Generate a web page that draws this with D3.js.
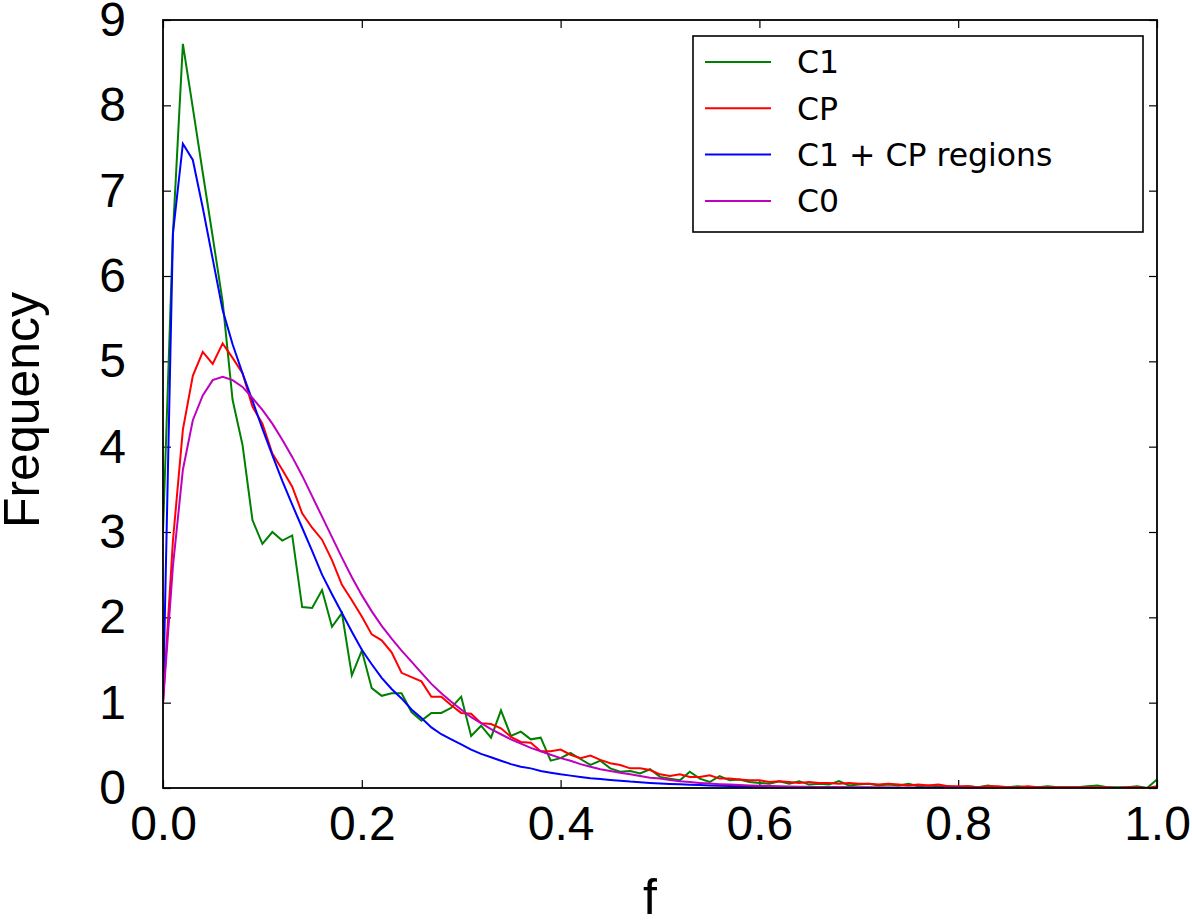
<!DOCTYPE html>
<html>
<head>
<meta charset="utf-8">
<script src="https://cdn.jsdelivr.net/npm/d3@7"></script>
<style>
  body { margin: 0; background: #fff; }
  svg { display: block; }
</style>
</head>
<body>
<svg id="chart" width="1192" height="922"></svg>
<script>
// bin positions (f)
var fBins = [0.00,0.01,0.02,0.03,0.04,0.05,0.06,0.07,0.08,0.09,
  0.10,0.11,0.12,0.13,0.14,0.15,0.16,0.17,0.18,0.19,
  0.20,0.21,0.22,0.23,0.24,0.25,0.26,0.27,0.28,0.29,
  0.30,0.31,0.32,0.33,0.34,0.35,0.36,0.37,0.38,0.39,
  0.40,0.41,0.42,0.43,0.44,0.45,0.46,0.47,0.48,0.49,
  0.50,0.51,0.52,0.53,0.54,0.55,0.56,0.57,0.58,0.59,
  0.60,0.61,0.62,0.63,0.64,0.65,0.66,0.67,0.68,0.69,
  0.70,0.71,0.72,0.73,0.74,0.75,0.76,0.77,0.78,0.79,
  0.80,0.81,0.82,0.83,0.84,0.85,0.86,0.87,0.88,0.89,
  0.90,0.91,0.92,0.93,0.94,0.95,0.96,0.97,0.98,0.99,1.00];

var c1 = [3.0,6.5,8.72,7.97,7.21,6.46,5.7,4.55,4.02,3.14,
  2.86,3.0,2.9,2.96,2.12,2.11,2.32,1.89,2.05,1.32,
  1.61,1.17,1.08,1.11,1.11,0.89,0.79,0.88,0.88,0.94,
  1.07,0.61,0.73,0.59,0.91,0.61,0.66,0.57,0.59,0.32,
  0.35,0.41,0.34,0.27,0.32,0.23,0.19,0.20,0.17,0.22,
  0.13,0.11,0.09,0.19,0.11,0.07,0.14,0.09,0.10,0.07,
  0.06,0.05,0.08,0.05,0.08,0.04,0.05,0.04,0.08,0.03,
  0.04,0.05,0.03,0.04,0.03,0.05,0.02,0.03,0.02,0.02,
  0.01,0.02,0.01,0.03,0.01,0.01,0.02,0.01,0.01,0.02,
  0.01,0.01,0.01,0.02,0.03,0.01,0.01,0.01,0.02,0.0,0.1];

var cp = [1.0,2.9,4.2,4.83,5.11,4.97,5.21,5.04,4.86,4.47,
  4.27,3.92,3.73,3.53,3.22,3.05,2.91,2.67,2.38,2.2,
  2.01,1.80,1.73,1.59,1.35,1.30,1.25,1.07,1.07,0.97,
  0.88,0.87,0.76,0.75,0.70,0.60,0.54,0.53,0.43,0.43,
  0.45,0.39,0.35,0.38,0.33,0.29,0.27,0.23,0.23,0.21,
  0.16,0.14,0.16,0.13,0.13,0.15,0.11,0.11,0.10,0.09,
  0.09,0.07,0.08,0.07,0.06,0.07,0.06,0.06,0.05,0.06,
  0.05,0.05,0.04,0.05,0.04,0.03,0.04,0.03,0.04,0.02,
  0.02,0.02,0.01,0.02,0.02,0.01,0.01,0.02,0.01,0.01,
  0.01,0.01,0.01,0.01,0.01,0.01,0.0,0.01,0.01,0.0,0.02];

var c1cpRegions = [1.0,6.5,7.55,7.36,6.8,6.2,5.6,5.2,4.86,4.54,
  4.21,3.9,3.6,3.32,3.05,2.78,2.5,2.27,2.05,1.83,
  1.62,1.45,1.29,1.16,1.05,0.92,0.82,0.71,0.63,0.57,
  0.51,0.45,0.40,0.36,0.32,0.28,0.25,0.23,0.20,0.18,
  0.16,0.145,0.13,0.115,0.105,0.095,0.085,0.075,0.068,0.06,
  0.054,0.048,0.043,0.038,0.034,0.03,0.027,0.024,0.021,0.019,
  0.017,0.015,0.013,0.012,0.011,0.01,0.009,0.008,0.007,0.006,
  0.005,0.005,0.004,0.004,0.003,0.003,0.003,0.002,0.002,0.002,
  0.002,0.001,0.001,0.001,0.001,0.001,0.001,0.001,0.001,0.001,
  0.001,0.001,0.001,0.001,0.001,0.001,0.001,0.001,0.001,0.001,0.001];

var c0 = [1.0,2.6,3.73,4.31,4.6,4.78,4.82,4.78,4.70,4.57,
  4.43,4.27,4.08,3.88,3.66,3.42,3.18,2.94,2.70,2.47,
  2.26,2.07,1.90,1.75,1.61,1.48,1.35,1.22,1.11,1.01,
  0.92,0.83,0.76,0.69,0.63,0.57,0.52,0.47,0.43,0.39,
  0.35,0.32,0.28,0.25,0.22,0.20,0.18,0.16,0.14,0.12,
  0.11,0.095,0.08,0.07,0.06,0.052,0.045,0.04,0.035,0.03,
  0.027,0.024,0.021,0.018,0.016,0.014,0.012,0.01,0.009,0.008,
  0.007,0.006,0.005,0.005,0.004,0.004,0.003,0.003,0.003,0.002,
  0.002,0.002,0.002,0.001,0.001,0.001,0.001,0.001,0.001,0.001,
  0.001,0.001,0.001,0.001,0.001,0.001,0.001,0.001,0.001,0.001,0.001];

var seriesNames = ["C1", "CP", "C1 + CP regions", "C0"];
var seriesColors = ["#008000", "#ff0000", "#0000ff", "#bf00bf"];
var seriesValues = [c1, cp, c1cpRegions, c0];

var xTicks = [0.0, 0.2, 0.4, 0.6, 0.8, 1.0];
var yTicks = [0, 1, 2, 3, 4, 5, 6, 7, 8, 9];

var plotLeft = 163, plotRight = 1157, plotTop = 20, plotBottom = 788;
var svg = d3.select("#chart");

var xScale = d3.scaleLinear().domain([0, 1]).range([plotLeft, plotRight]);
var yScale = d3.scaleLinear().domain([0, 9]).range([plotBottom, plotTop]);

svg.append("defs").append("clipPath").attr("id", "plotclip")
  .append("rect")
  .attr("x", plotLeft).attr("y", plotTop)
  .attr("width", plotRight - plotLeft).attr("height", plotBottom - plotTop);

var tickFont = "'Liberation Sans', Arial, Helvetica, sans-serif";

// bottom axis
var xAxis = svg.append("g")
  .attr("transform", "translate(0," + plotBottom + ")")
  .call(d3.axisBottom(xScale).tickValues(xTicks).tickSize(-8).tickPadding(18)
    .tickFormat(d3.format(".1f")));
// top axis (ticks only)
var xAxisTop = svg.append("g")
  .attr("transform", "translate(0," + plotTop + ")")
  .call(d3.axisTop(xScale).tickValues(xTicks).tickSize(-8).tickFormat(""));
// left axis
var yAxis = svg.append("g")
  .attr("transform", "translate(" + plotLeft + ",0)")
  .call(d3.axisLeft(yScale).tickValues(yTicks).tickSize(-8).tickPadding(37)
    .tickFormat(d3.format("d")));
// right axis (ticks only)
var yAxisRight = svg.append("g")
  .attr("transform", "translate(" + plotRight + ",0)")
  .call(d3.axisRight(yScale).tickValues(yTicks).tickSize(-8).tickFormat(""));

[xAxis, xAxisTop, yAxis, yAxisRight].forEach(function (g) {
  g.select(".domain").remove();
  g.selectAll(".tick line").attr("stroke", "#000").attr("stroke-width", 1.2);
  g.selectAll(".tick text")
    .attr("fill", "#000")
    .style("font-family", tickFont)
    .style("font-size", "48px");
});

// lines
var line = d3.line()
  .x(function (d) { return xScale(d[0]); })
  .y(function (d) { return yScale(d[1]); });

var plot = svg.append("g").attr("clip-path", "url(#plotclip)");
seriesValues.forEach(function (vals, i) {
  var pts = fBins.map(function (f, j) { return [f, vals[j]]; });
  plot.append("path")
    .datum(pts)
    .attr("d", line)
    .attr("fill", "none")
    .attr("stroke", seriesColors[i])
    .attr("stroke-width", 2)
    .attr("stroke-linejoin", "miter");
});

// frame
svg.append("rect")
  .attr("x", plotLeft).attr("y", plotTop)
  .attr("width", plotRight - plotLeft).attr("height", plotBottom - plotTop)
  .attr("fill", "none")
  .attr("stroke", "#000")
  .attr("stroke-width", 1.8);

// axis labels
svg.append("text")
  .attr("x", xScale(0.49)).attr("y", 914)
  .attr("text-anchor", "middle")
  .style("font-family", tickFont).style("font-size", "50px")
  .text("f");

svg.append("text")
  .attr("transform", "translate(39," + ((plotTop + plotBottom) / 2 + 6) + ") rotate(-90)")
  .attr("text-anchor", "middle")
  .style("font-family", tickFont).style("font-size", "50px")
  .text("Frequency");

// legend
var legend = svg.append("g").attr("transform", "translate(693,36)");
legend.append("rect")
  .attr("width", 450).attr("height", 196)
  .attr("fill", "#fff").attr("stroke", "#000").attr("stroke-width", 1.6);

var items = legend.selectAll(".item").data(seriesNames).enter()
  .append("g").attr("class", "item")
  .attr("transform", function (d, i) { return "translate(0," + (26 + i * 46.3) + ")"; });
items.append("line")
  .attr("x1", 12).attr("x2", 78)
  .attr("stroke", function (d, i) { return seriesColors[i]; })
  .attr("stroke-width", 2);
items.append("text")
  .attr("x", 104).attr("dy", "0.36em")
  .style("font-family", "'DejaVu Sans', sans-serif").style("font-size", "31.5px")
  .text(function (d) { return d; });
</script>
</body>
</html>
